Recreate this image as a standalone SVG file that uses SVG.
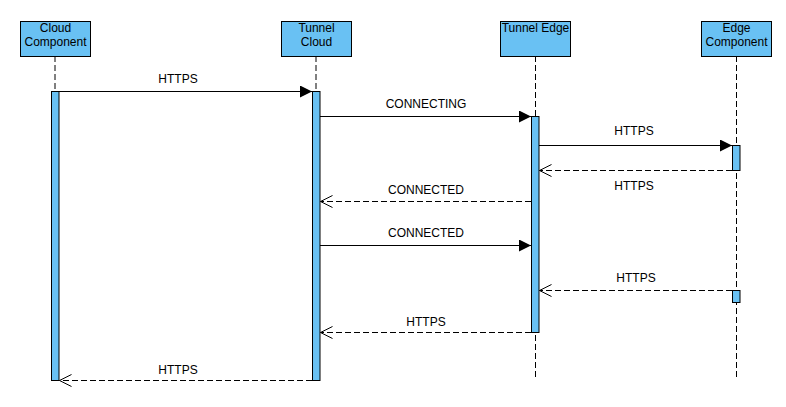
<svg xmlns="http://www.w3.org/2000/svg" width="786" height="407" viewBox="0 0 786 407">
<style>
.box{fill:#69C1F3;stroke:#000;stroke-width:1}
.act{fill:#69C1F3;stroke:#000;stroke-width:1}
.life{stroke:#000;stroke-width:1;stroke-dasharray:6 3;fill:none}
.msg{stroke:#000;stroke-width:1;fill:none}
.ret{stroke:#000;stroke-width:1;fill:none;stroke-dasharray:6 3}
text{font-family:"Liberation Sans",Arial,Helvetica,sans-serif;font-size:12px;fill:#000;text-anchor:middle}
</style>
<defs>
<marker id="filled" markerWidth="13" markerHeight="12" refX="12" refY="6" orient="auto" markerUnits="userSpaceOnUse">
<path d="M0,0 L12,6 L0,12 Z" fill="#000"/>
</marker>
<marker id="open" markerWidth="14" markerHeight="14" refX="12" refY="7" orient="auto" markerUnits="userSpaceOnUse">
<path d="M0,1 L12,7 L0,13" fill="none" stroke="#000" stroke-width="1"/>
</marker>
</defs>
<rect width="786" height="407" fill="#fff"/>
<g id="lifelines">
<line class="life" x1="55" y1="56" x2="55" y2="380"/>
<line class="life" x1="316" y1="56" x2="316" y2="380"/>
<line class="life" x1="535.5" y1="56" x2="535.5" y2="380"/>
<line class="life" x1="736.5" y1="56" x2="736.5" y2="380"/>
</g>
<g id="cloud-component">
<rect class="box" x="20.5" y="21.5" width="70" height="35"/>
<text x="55.5" y="32">Cloud</text>
<text x="55.5" y="46">Component</text>
<rect class="act" x="51.5" y="91.5" width="7.5" height="289"/>
</g>
<g id="tunnel-cloud">
<rect class="box" x="281.5" y="21.5" width="70" height="35"/>
<text x="316.5" y="32">Tunnel</text>
<text x="316.5" y="46">Cloud</text>
<rect class="act" x="312.5" y="91.5" width="7.5" height="289"/>
</g>
<g id="tunnel-edge">
<rect class="box" x="500.5" y="21.5" width="70" height="35"/>
<text x="535.5" y="32">Tunnel Edge</text>
<rect class="act" x="531.5" y="116.5" width="7.5" height="216"/>
</g>
<g id="edge-component">
<rect class="box" x="701.5" y="21.5" width="70" height="35"/>
<text x="736.5" y="32">Edge</text>
<text x="736.5" y="46">Component</text>
<rect class="act" x="732.5" y="145.5" width="7.5" height="25"/>
<rect class="act" x="732.5" y="290.5" width="7.5" height="12"/>
</g>
<g id="connectors">
<line class="msg" x1="59" y1="91.5" x2="312" y2="91.5" marker-end="url(#filled)"/>
<text x="178" y="83">HTTPS</text>
<line class="msg" x1="320" y1="116.5" x2="531" y2="116.5" marker-end="url(#filled)"/>
<text x="426" y="108">CONNECTING</text>
<line class="msg" x1="539" y1="145.5" x2="732" y2="145.5" marker-end="url(#filled)"/>
<text x="634" y="135">HTTPS</text>
<line class="ret" x1="732" y1="170.5" x2="539.5" y2="170.5" marker-end="url(#open)"/>
<text x="634" y="190">HTTPS</text>
<line class="ret" x1="531" y1="201.5" x2="320.5" y2="201.5" marker-end="url(#open)"/>
<text x="426" y="194">CONNECTED</text>
<line class="msg" x1="320" y1="245.5" x2="531" y2="245.5" marker-end="url(#filled)"/>
<text x="426" y="237">CONNECTED</text>
<line class="ret" x1="732" y1="290.5" x2="539.5" y2="290.5" marker-end="url(#open)"/>
<text x="636" y="282">HTTPS</text>
<line class="ret" x1="531" y1="332.5" x2="320.5" y2="332.5" marker-end="url(#open)"/>
<text x="426" y="326">HTTPS</text>
<line class="ret" x1="312" y1="380.5" x2="59.5" y2="380.5" marker-end="url(#open)"/>
<text x="178" y="374">HTTPS</text>
</g>
</svg>
